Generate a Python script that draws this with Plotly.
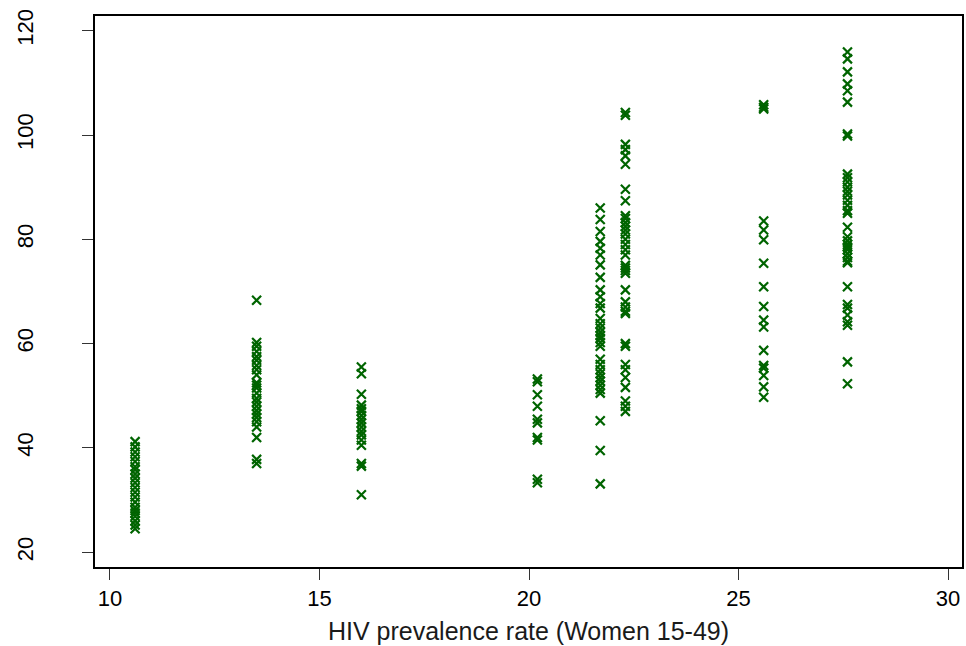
import plotly.graph_objects as go

# HIV prevalence (x) and corresponding y values, per district group
x_levels = [10.6, 13.5, 16.0, 20.2, 21.7, 22.3, 25.6, 27.6]

y_groups = [
    [41.2, 40.2, 39.2, 38.3, 37.4, 36.4, 35.8, 35.0, 34.2, 33.3, 32.4, 31.5, 30.6, 29.6, 28.6, 28.0, 27.5, 26.9, 26.0, 25.2, 24.5],
    [68.3, 60.2, 59.5, 58.5, 57.5, 56.8, 55.8, 55.0, 54.0, 52.5, 52.0, 51.5, 50.5, 49.5, 48.8, 48.0, 47.2, 46.5, 45.8, 45.0, 44.0, 42.0, 37.8, 37.0],
    [55.5, 54.2, 50.3, 48.2, 47.5, 47.0, 46.2, 45.5, 44.8, 44.0, 43.2, 42.5, 41.5, 40.5, 37.0, 36.5, 31.0],
    [53.2, 52.7, 50.2, 48.0, 45.5, 44.8, 42.0, 41.5, 34.0, 33.3],
    [86.0, 83.8, 81.5, 79.6, 78.3, 77.0, 75.1, 72.7, 70.3, 69.0, 67.7, 66.8,
     64.8, 63.8, 63.0, 62.2, 61.5, 61.0, 60.2, 59.5,
     57.0, 56.0, 55.0, 54.2, 53.5, 52.8, 52.0, 51.2, 50.5, 45.2, 39.5, 33.1],
    [104.3, 103.8, 98.2, 97.2, 96.0, 94.4, 89.6, 87.4, 84.5, 84.0, 83.2, 82.5, 81.8, 81.0, 80.0, 79.0, 78.0, 77.0,
     75.0, 74.5, 74.0, 73.5, 70.3, 68.0, 67.0, 66.2, 65.8, 60.0, 59.5, 56.0, 55.0, 53.5, 51.6, 49.0, 48.0, 47.0],
    [105.8, 105.3, 105.0, 83.5, 81.8, 79.9, 75.4, 70.9, 67.1, 64.5, 63.2, 58.7, 55.8, 55.3, 53.9, 51.7, 49.7],
    [115.9, 114.6, 112.1, 109.8, 108.5, 106.3, 100.2, 99.8,
     92.5, 91.8, 91.0, 90.0, 89.2, 88.5, 87.5, 86.5, 85.5, 85.0,
     82.3, 80.5, 79.7, 79.0, 78.5, 78.0, 77.2, 76.5, 75.8, 75.5,
     70.9, 67.5, 66.8, 65.5, 64.2, 63.5, 56.5, 52.3],
]

x_ticks = [10, 15, 20, 25, 30]
y_ticks = [20, 40, 60, 80, 100, 120]
x_title = "HIV prevalence rate (Women 15-49)"

xs, ys = [], []
for xv, grp in zip(x_levels, y_groups):
    for yv in grp:
        xs.append(xv)
        ys.append(yv)

fig = go.Figure(go.Scatter(
    x=xs, y=ys, mode="markers",
    marker=dict(symbol="x-thin-open", size=9, color="#006400",
                line=dict(color="#006400", width=2.2)),
    showlegend=False,
))

tick_font = dict(family="Liberation Sans, Arial, sans-serif", size=22, color="#000000")
title_font = dict(family="Liberation Sans, Arial, sans-serif", size=25, color="#1a1a1a")

fig.update_layout(
    width=966, height=646,
    margin=dict(l=95, r=2, t=16, b=79),
    plot_bgcolor="white", paper_bgcolor="white",
    font=tick_font,
)
fig.update_xaxes(
    range=[9.643, 30.333], tickvals=x_ticks, ticktext=[str(t) for t in x_ticks],
    showgrid=False, zeroline=False,
    showline=True, linecolor="black", linewidth=1.5, mirror=True,
    ticks="outside", ticklen=11, tickwidth=1.2, tickcolor="#333333",
    tickfont=tick_font,
    title=dict(text=x_title, font=title_font, standoff=12),
)
fig.update_yaxes(
    range=[17.16, 122.82], tickvals=y_ticks, ticktext=[str(t) for t in y_ticks],
    showgrid=False, zeroline=False,
    showline=True, linecolor="black", linewidth=1.5, mirror=True,
    ticks="outside", ticklen=11, tickwidth=1.2, tickcolor="#333333",
    tickangle=-90, tickfont=tick_font, ticklabelstandoff=40,
)

fig.write_html(
    "out.html",
    config={"displayModeBar": False},
    post_script="document.body.style.margin='0';document.body.style.overflow='hidden';",
)
